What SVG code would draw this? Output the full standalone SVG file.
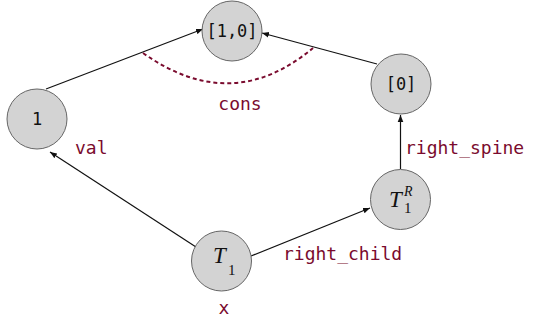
<svg xmlns="http://www.w3.org/2000/svg" width="533" height="324" viewBox="0 0 533 324">
<defs>
<style>
.node{fill:#d3d3d3;stroke:#666;stroke-width:1}
.mono{font-family:"DejaVu Sans Mono","Liberation Mono",monospace;font-size:17px;fill:#111;text-anchor:middle}
.lbl{font-family:"DejaVu Sans Mono","Liberation Mono",monospace;font-size:18px;fill:#7a0b2e}
.math{font-family:"Liberation Serif","DejaVu Serif",serif;fill:#111}
.edge{stroke:#111;stroke-width:1.2;fill:none;marker-end:url(#ah)}
</style>
<marker id="ah" viewBox="0 0 10 10" refX="10" refY="5" markerWidth="7" markerHeight="7" markerUnits="userSpaceOnUse" orient="auto">
<path d="M0,1 L10,5 L0,9 z" fill="#111"/>
</marker>
</defs>
<rect width="533" height="324" fill="#fff"/>
<g id="connectors">
<line class="edge" x1="46" y1="89" x2="203" y2="29"/>
<line class="edge" x1="377" y1="64" x2="262" y2="33"/>
<line class="edge" x1="400.5" y1="169" x2="400.5" y2="115"/>
<line class="edge" x1="196" y1="247" x2="50" y2="152"/>
<line class="edge" x1="251" y1="256" x2="370" y2="208"/>
<path d="M143,53 Q232,116 313,48" fill="none" stroke="#7a0b2e" stroke-width="2" stroke-dasharray="4,3"/>
<text class="lbl" x="240" y="110" text-anchor="middle">cons</text>
<text class="lbl" x="75" y="154">val</text>
<text class="lbl" x="405" y="154">right_spine</text>
<text class="lbl" x="283" y="260">right_child</text>
</g>
<g id="n10">
<circle class="node" cx="232" cy="31" r="30"/>
<text class="mono" x="232" y="37">[1,0]</text>
</g>
<g id="n0">
<circle class="node" cx="401" cy="84" r="30"/>
<text class="mono" x="401" y="90">[0]</text>
</g>
<g id="n1">
<circle class="node" cx="37" cy="119" r="30"/>
<text class="mono" x="37" y="125">1</text>
</g>
<g id="nT1">
<circle class="node" cx="221.5" cy="261" r="30"/>
<text class="math" x="213" y="263" font-size="23" font-style="italic">T</text>
<text class="math" x="228" y="275" font-size="15">1</text>
<text class="lbl" x="224" y="314" text-anchor="middle">x</text>
</g>
<g id="nT1R">
<circle class="node" cx="400.5" cy="199.5" r="30"/>
<text class="math" x="389" y="207" font-size="23" font-style="italic">T</text>
<text class="math" x="404" y="196" font-size="14" font-style="italic">R</text>
<text class="math" x="404" y="213" font-size="15">1</text>
</g>
</svg>
